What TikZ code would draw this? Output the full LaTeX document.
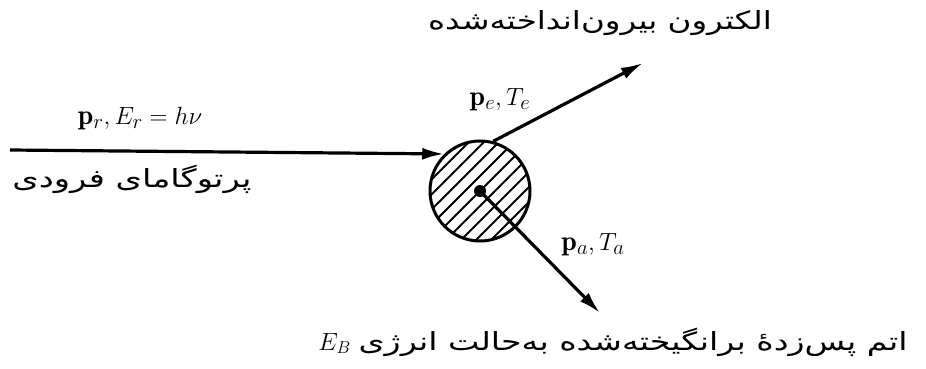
\documentclass[tikz,border=0pt]{standalone}
\usepackage{graphicx}
\usepackage{fontspec}
\usetikzlibrary{arrows.meta}
\TeXXeTstate=1
\newfontfamily\arabicfont[Script=Arabic]{DejaVu Sans}
\tikzset{
  ray/.style={line width=3.2pt, -{Latex[length=22pt,width=12pt]}},
  atomstyle/.style={circle, draw, line width=3pt, minimum size=100pt, inner sep=0pt},
  nucleus/.style={circle, fill, minimum size=12pt, inner sep=0pt},
  hatch/.style={line width=2pt},
  fa/.style={font=\arabicfont\fontsize{25}{30}\selectfont, inner sep=0pt},
  lab/.style={font=\fontsize{28}{32}\selectfont, inner sep=0pt}
}
\begin{document}
\begin{tikzpicture}[x=1pt,y=-1pt]
\useasboundingbox (0,0) rectangle (926,369);
% atom
\begin{scope}
  \clip (480,191) circle (50pt);
  \foreach \c in {-90,-75,...,90}
    \draw[hatch] (480+\c-70,191+70) -- (480+\c+70,191-70);
\end{scope}
\node[atomstyle] (atom) at (480,191) {};
\node[nucleus] (nuc) at (480,191) {};
% free ends
\coordinate (src) at (10,150);
\coordinate (etip) at (643,63);
\coordinate (atip) at (600,313);
% rays
\draw[ray] (src) -- (atom.134);
\draw[ray] (atom.75) -- (etip);
\draw[ray] (nuc.center) -- (atip);
% labels
\node[lab] (lr) at (140,119) {$\mathbf{p}_r, E_r = h\nu$};
\node[lab] (le) at (500,100) {$\mathbf{p}_e, T_e$};
\node[lab] (la) at (593,245) {$\mathbf{p}_a, T_a$};
\node[fa] (tt) at (600,23) {\scalebox{1.3}[1]{\beginR الکترون بیرون^^^^200cانداخته^^^^200cشده\endR}};
\node[fa] (tl) at (132,179) {\scalebox{1.35}[1]{\beginR پرتوگامای فرودی\endR}};
\node[fa] (tb) at (613,342) {$E_B$\ \scalebox{1.33}[1]{\beginR اتم پس^^^^200cزدهٔ برانگیخته^^^^200cشده به^^^^200cحالت انرژی\endR}};
\end{tikzpicture}
\end{document}
